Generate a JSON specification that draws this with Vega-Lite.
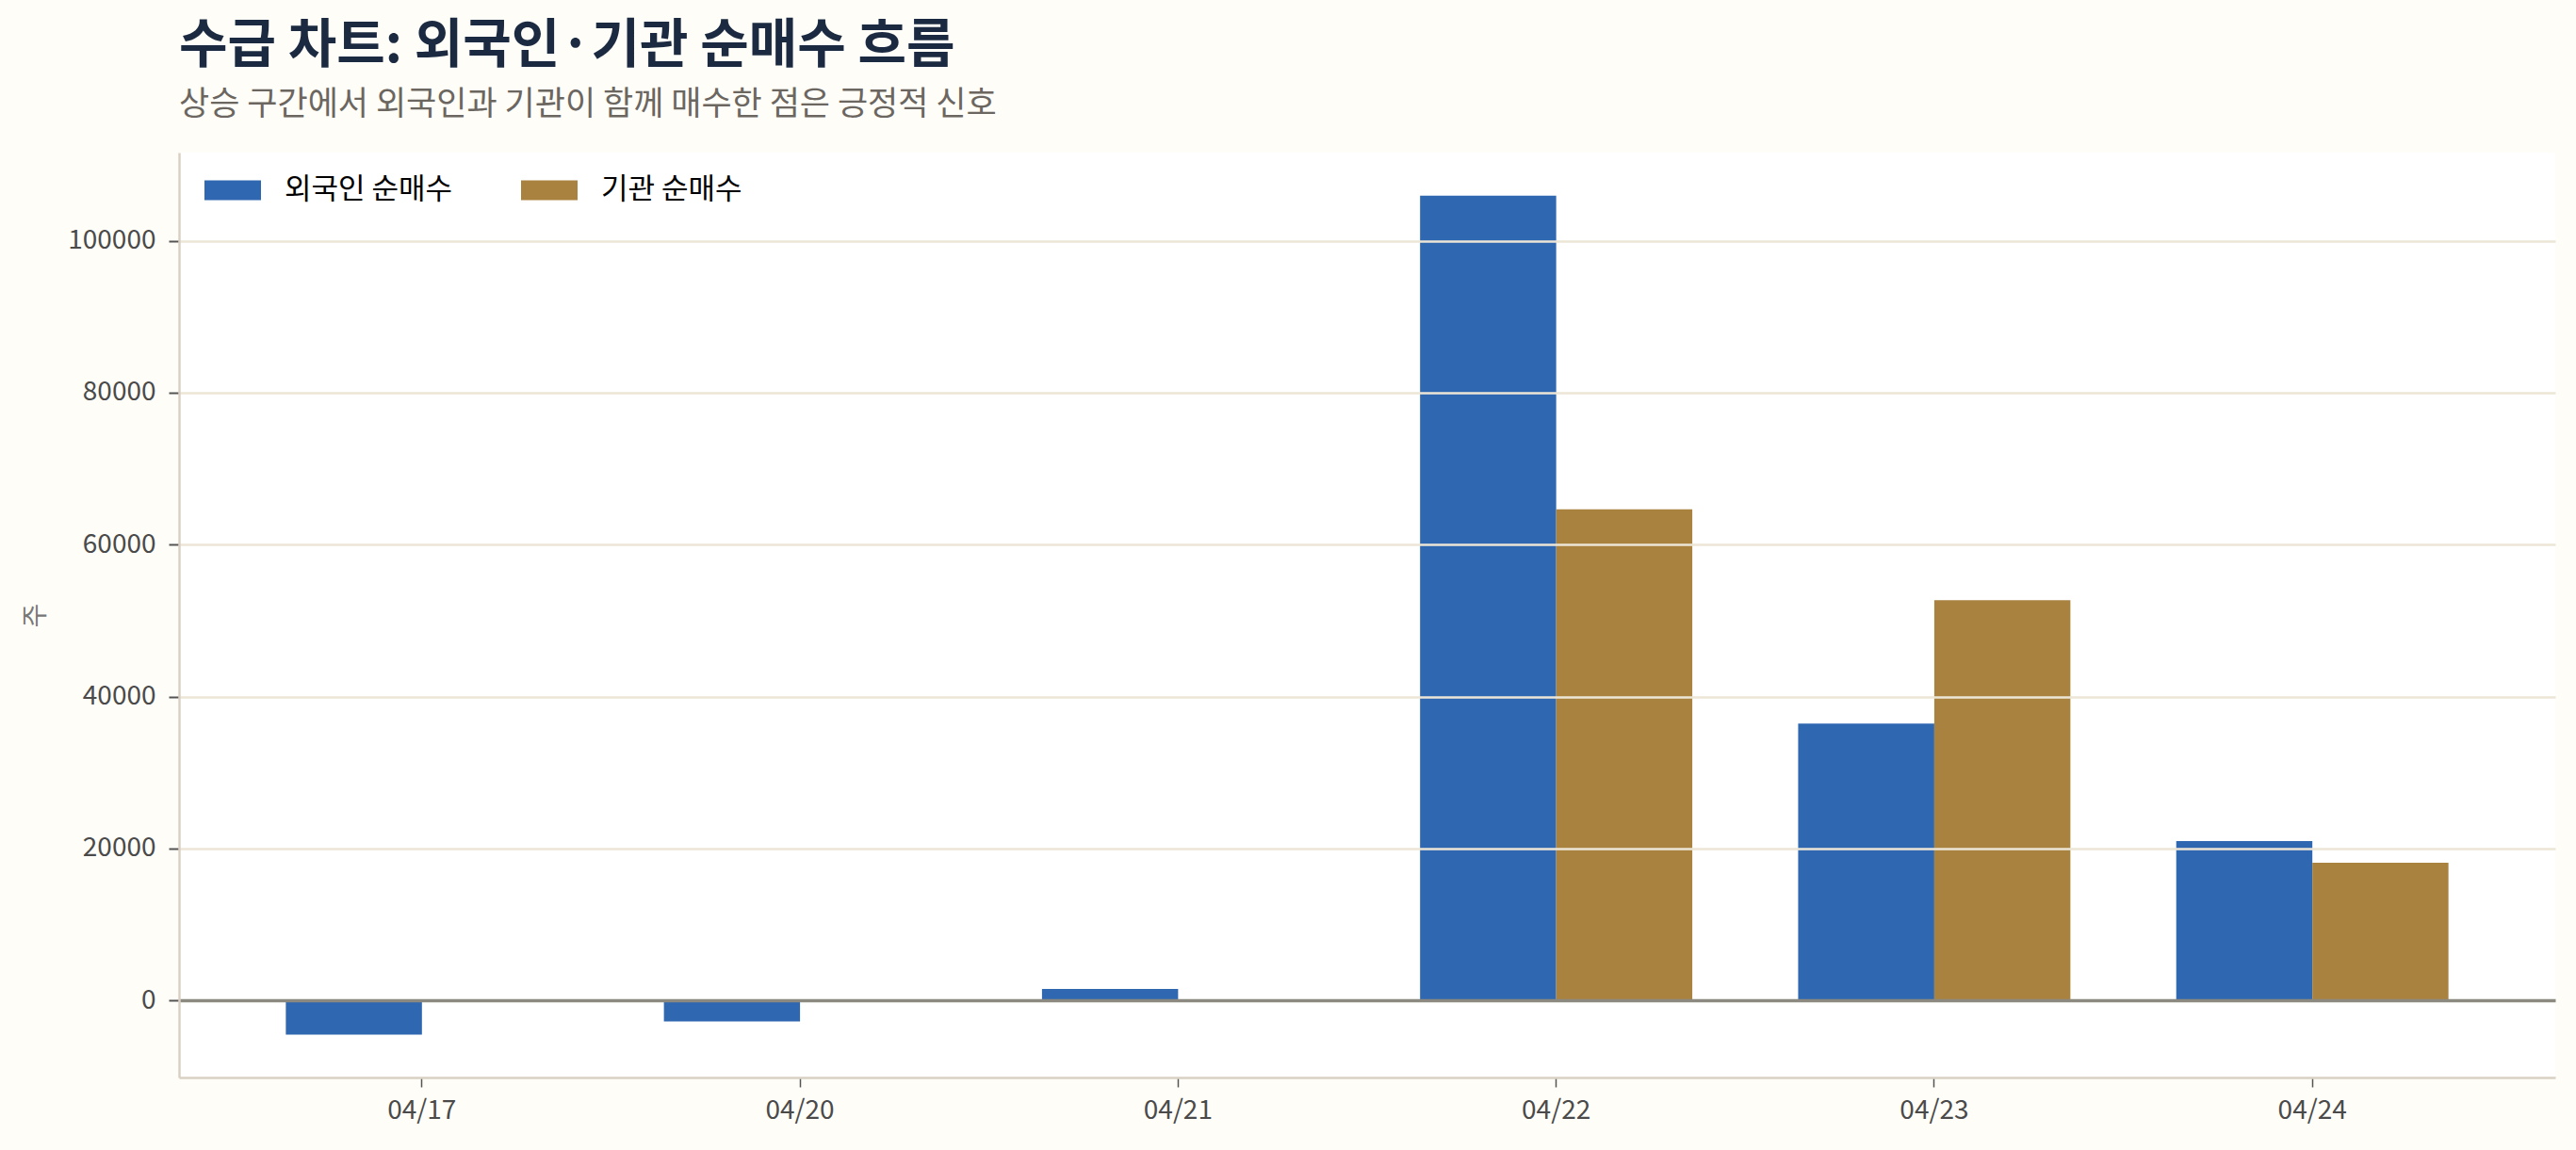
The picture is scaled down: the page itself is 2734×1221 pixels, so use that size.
{
  "$schema": "https://vega.github.io/schema/vega-lite/v6.json",
  "autosize": "none",
  "width": 2522,
  "height": 982,
  "padding": {"left": 190, "top": 162, "right": 22, "bottom": 77},
  "background": "#FEFDF8",
  "config": {
    "font": "Noto Sans CJK KR",
    "view": {"fill": "#FFFFFF", "stroke": null}
  },
  "title": {
    "text": "수급 차트: 외국인·기관 순매수 흐름",
    "subtitle": "상승 구간에서 외국인과 기관이 함께 매수한 점은 긍정적 신호",
    "anchor": "start",
    "frame": "group",
    "fontSize": 56,
    "fontWeight": "bold",
    "color": "#1B2A41",
    "subtitleFontSize": 35,
    "subtitleColor": "#6B6660",
    "subtitlePadding": 16,
    "offset": 32
  },
  "data": {
    "values": [
      {"date": "04/17", "series": "외국인 순매수", "value": -4515},
      {"date": "04/17", "series": "기관 순매수", "value": 0},
      {"date": "04/20", "series": "외국인 순매수", "value": -2780},
      {"date": "04/20", "series": "기관 순매수", "value": 0},
      {"date": "04/21", "series": "외국인 순매수", "value": 1500},
      {"date": "04/21", "series": "기관 순매수", "value": 0},
      {"date": "04/22", "series": "외국인 순매수", "value": 105930},
      {"date": "04/22", "series": "기관 순매수", "value": 64650},
      {"date": "04/23", "series": "외국인 순매수", "value": 36450},
      {"date": "04/23", "series": "기관 순매수", "value": 52690},
      {"date": "04/24", "series": "외국인 순매수", "value": 20970},
      {"date": "04/24", "series": "기관 순매수", "value": 18110}
    ]
  },
  "mark": {"type": "bar"},
  "encoding": {
    "x": {
      "field": "date",
      "type": "nominal",
      "sort": null,
      "scale": {"paddingInner": 0.28, "paddingOuter": 0.2825},
      "axis": {
        "title": null,
        "labelAngle": 0,
        "labelFontSize": 28,
        "labelColor": "#4A4A4A",
        "labelPadding": 11,
        "tickColor": "#555555",
        "tickSize": 10,
        "tickWidth": 1.5,
        "domainColor": "#D9D0C4",
        "domainWidth": 2.5
      }
    },
    "xOffset": {
      "field": "series",
      "sort": ["외국인 순매수", "기관 순매수"],
      "scale": {"paddingInner": 0, "paddingOuter": 0}
    },
    "y": {
      "field": "value",
      "type": "quantitative",
      "scale": {"domain": [-10150, 111600], "nice": false, "zero": false},
      "axis": {
        "title": "주",
        "titleFontSize": 28,
        "titleFontWeight": "normal",
        "titleColor": "#777777",
        "titlePadding": 19,
        "values": [0, 20000, 40000, 60000, 80000, 100000],
        "format": "d",
        "labelFontSize": 28,
        "labelColor": "#4A4A4A",
        "labelPadding": 14,
        "tickColor": "#555555",
        "tickSize": 11,
        "tickWidth": 2,
        "domainColor": "#D9D0C4",
        "domainWidth": 2.5,
        "gridColor": {
          "condition": {"test": "datum.value === 0", "value": "#8C8A80"},
          "value": "#EDE6D6"
        },
        "gridWidth": {
          "condition": {"test": "datum.value === 0", "value": 3.5},
          "value": 2.5
        },
        "zindex": 1
      }
    },
    "color": {
      "field": "series",
      "type": "nominal",
      "scale": {
        "domain": ["외국인 순매수", "기관 순매수"],
        "range": ["#2F67B0", "#A98240"]
      },
      "legend": {
        "title": null,
        "orient": "none",
        "legendX": 27,
        "legendY": 10,
        "direction": "horizontal",
        "symbolType": "M-1,-0.35L1,-0.35L1,0.35L-1,0.35Z",
        "symbolSize": 3600,
        "symbolStrokeWidth": 0,
        "labelFontSize": 31,
        "labelLimit": 500,
        "labelColor": "#000000",
        "labelOffset": 25,
        "columnPadding": 72
      }
    }
  }
}
